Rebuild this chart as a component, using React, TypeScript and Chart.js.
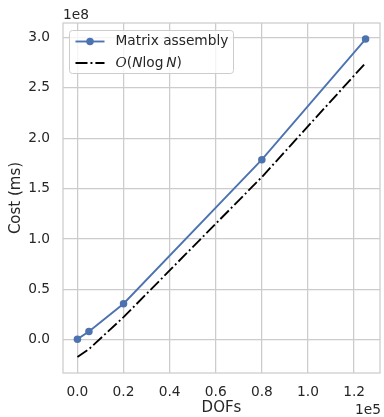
import React, { useEffect, useRef } from 'react';
import { Chart, registerables } from 'chart.js';
Chart.register(...registerables);

const dofs = [0, 5000, 20000, 80000, 125000];
const matrixAssembly = [0.007e8, 0.082e8, 0.358e8, 1.787e8, 2.984e8];
const nLogN = [-0.171e8, -0.092e8, 0.225e8, 1.615e8, 2.747e8];
const xTicks = [0, 20000, 40000, 60000, 80000, 100000, 120000];
const yTicks = [0, 0.5e8, 1e8, 1.5e8, 2e8, 2.5e8, 3e8];
const seriesLabels = ['Matrix assembly', 'O(N log N)'];

const FONT = "'DejaVu Sans'";
const TEXT = '#262626';
const GRID = '#cccccc';
const BLUE = '#4C72B0';
const DASH = [12, 3, 1.9, 3];

const overlay = {
  id: 'overlay',
  afterDraw(chart: any) {
    const { ctx, chartArea: a } = chart;
    ctx.save();
    // spines
    ctx.strokeStyle = GRID;
    ctx.lineWidth = 1.25;
    ctx.strokeRect(a.left, a.top, a.right - a.left, a.bottom - a.top);
    // offset texts
    ctx.fillStyle = TEXT;
    ctx.font = `13.75px ${FONT}`;
    ctx.textBaseline = 'alphabetic';
    ctx.textAlign = 'left';
    ctx.fillText('1e8', a.left, a.top - 4.5);
    ctx.textAlign = 'right';
    ctx.fillText('1e5', a.right + 1, 413.5);
    // legend
    const lx = a.left + 6.5, ly = a.top + 7.5, lw = 164, lh = 43;
    ctx.beginPath();
    ctx.roundRect(lx, ly, lw, lh, 3);
    ctx.fillStyle = 'rgba(255,255,255,0.8)';
    ctx.fill();
    ctx.strokeStyle = GRID;
    ctx.lineWidth = 1;
    ctx.stroke();
    const r1 = ly + 11, r2 = ly + 32.5;
    const sx0 = lx + 6, sx1 = lx + 35, tx = lx + 46;
    ctx.strokeStyle = BLUE;
    ctx.lineWidth = 1.875;
    ctx.beginPath();
    ctx.moveTo(sx0, r1);
    ctx.lineTo(sx1, r1);
    ctx.stroke();
    ctx.fillStyle = BLUE;
    ctx.beginPath();
    ctx.arc((sx0 + sx1) / 2, r1, 3.75, 0, Math.PI * 2);
    ctx.fill();
    ctx.strokeStyle = '#000000';
    ctx.setLineDash(DASH);
    ctx.beginPath();
    ctx.moveTo(sx0, r2);
    ctx.lineTo(sx1, r2);
    ctx.stroke();
    ctx.setLineDash([]);
    ctx.fillStyle = TEXT;
    ctx.textAlign = 'left';
    ctx.textBaseline = 'middle';
    ctx.font = `13.75px ${FONT}`;
    ctx.fillText(seriesLabels[0], tx, r1);
    const pieces: [string, string][] = [
      ['O', `italic 13.75px 'DejaVu Serif'`],
      ['(', `13.75px ${FONT}`],
      ['N', `oblique 13.75px ${FONT}`],
      ['log', `13.75px ${FONT}`],
      [' ', `9px ${FONT}`],
      ['N', `oblique 13.75px ${FONT}`],
      [')', `13.75px ${FONT}`],
    ];
    let x = tx;
    for (const [t, f] of pieces) {
      ctx.font = f;
      ctx.fillText(t, x, r2);
      x += ctx.measureText(t).width;
    }
    ctx.restore();
  },
};

export default function App() {
  const ref = useRef<HTMLCanvasElement>(null);
  useEffect(() => {
    document.body.style.margin = '0';
    const chart = new Chart(ref.current!, {
      type: 'scatter',
      data: {
        datasets: [
          {
            label: seriesLabels[0],
            data: dofs.map((d, i) => ({ x: d, y: matrixAssembly[i] })),
            showLine: true,
            borderColor: BLUE,
            backgroundColor: BLUE,
            borderWidth: 1.875,
            pointRadius: 3.75,
            pointBorderWidth: 0,
            tension: 0,
          },
          {
            label: seriesLabels[1],
            data: dofs.map((d, i) => ({ x: d, y: nLogN[i] })),
            showLine: true,
            borderColor: '#000000',
            backgroundColor: '#000000',
            borderWidth: 1.875,
            borderDash: DASH,
            pointRadius: 0,
            tension: 0,
          },
        ],
      },
      options: {
        animation: false,
        responsive: false,
        devicePixelRatio: 1,
        layout: { padding: { top: 23, right: 2, bottom: 0, left: 0 } },
        plugins: { legend: { display: false }, tooltip: { enabled: false } },
        scales: {
          x: {
            type: 'linear',
            min: -6250,
            max: 131250,
            afterBuildTicks: (s: any) => { s.ticks = xTicks.map((v) => ({ value: v })); },
            afterFit: (s: any) => { s.height = 44; },
            grid: { color: GRID, lineWidth: 1.25, drawTicks: false },
            border: { display: false },
            ticks: {
              color: TEXT,
              font: { family: 'DejaVu Sans', size: 13.75 },
              padding: 11,
              maxRotation: 0,
              callback: (v: any) => (v / 1e5).toFixed(1),
            },
            title: {
              display: true,
              text: 'DOFs',
              color: TEXT,
              font: { family: 'DejaVu Sans', size: 15 },
              padding: { top: 0, bottom: 0 },
            },
          },
          y: {
            type: 'linear',
            min: -0.329e8,
            max: 3.143e8,
            afterBuildTicks: (s: any) => { s.ticks = yTicks.map((v) => ({ value: v })); },
            afterFit: (s: any) => { s.width = 63; },
            grid: { color: GRID, lineWidth: 1.25, drawTicks: false },
            border: { display: false },
            ticks: {
              color: TEXT,
              font: { family: 'DejaVu Sans', size: 13.75 },
              padding: 13,
              callback: (v: any) => (v / 1e8).toFixed(1),
            },
            title: {
              display: true,
              text: 'Cost (ms)',
              color: TEXT,
              font: { family: 'DejaVu Sans', size: 15 },
              padding: { top: 7, bottom: 0 },
            },
          },
        },
      },
      plugins: [overlay],
    } as any);
    return () => chart.destroy();
  }, []);
  return (
    <div style={{ position: 'absolute', left: 0, top: 0, width: 384, height: 417 }}>
      <canvas ref={ref} width={384} height={417} />
    </div>
  );
}
